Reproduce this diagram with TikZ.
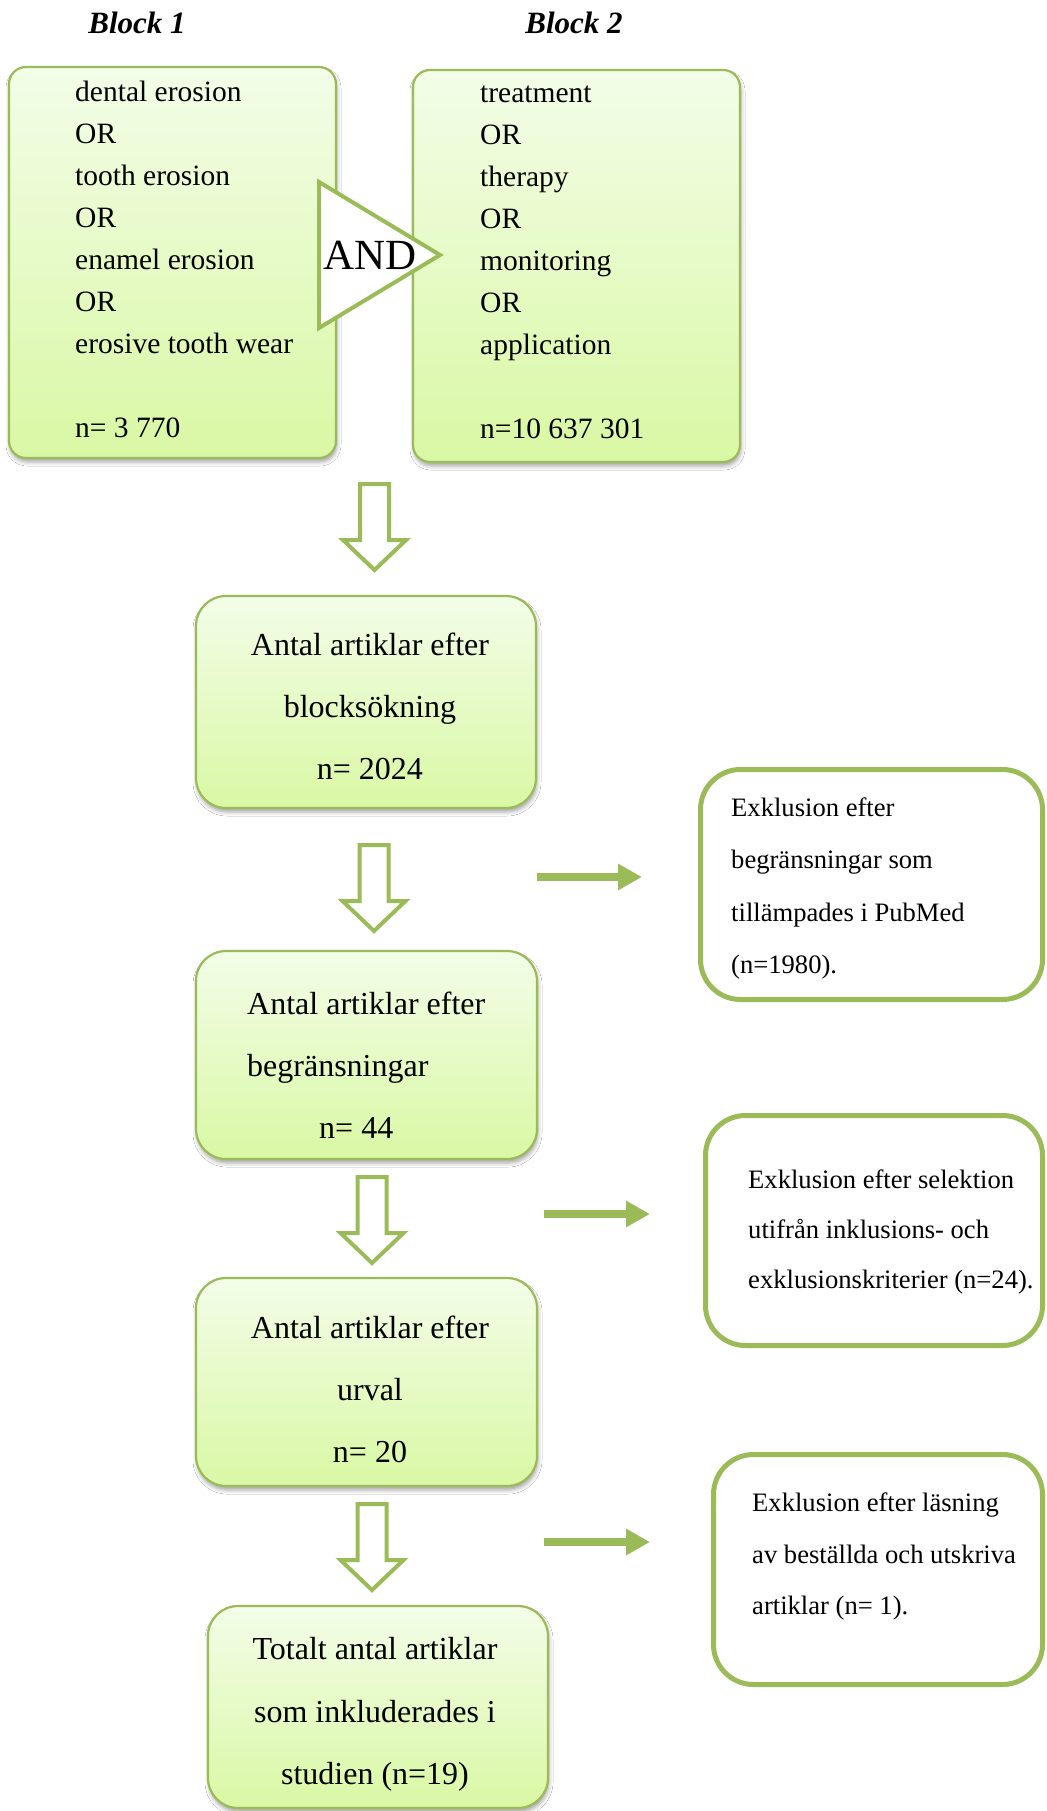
\documentclass[tikz,border=0pt]{standalone}
\usepackage{fontspec}
\setmainfont{Liberation Serif}
\usetikzlibrary{arrows.meta,shadows.blur}
\definecolor{ogreen}{HTML}{9BBB59}
\definecolor{gtop}{HTML}{F3FDE8}
\definecolor{gbot}{HTML}{D9F8A4}
\tikzset{
  softshadow/.style={blur shadow={shadow xshift=1pt,shadow yshift=-4pt,shadow blur radius=4pt,shadow opacity=35}},
  blockbox/.style={rectangle, draw=ogreen, line width=2.2pt, rounded corners=17pt,
     top color=gtop, bottom color=gbot, inner sep=0pt, softshadow},
  flowbox/.style={rectangle, draw=ogreen, line width=2.2pt, rounded corners=30pt,
     top color=gtop, bottom color=gbot, inner sep=0pt, softshadow},
  exclbox/.style={rectangle, draw=ogreen, line width=5pt, rounded corners=40pt,
     fill=white, inner sep=0pt},
  blocktxt/.style={inner sep=0pt, align=left, anchor=west, font=\fontsize{29.5}{42}\selectfont},
  flowtxt/.style={inner sep=0pt, align=center, font=\fontsize{32}{62}\selectfont},
  excltxt/.style={inner sep=0pt, align=left, anchor=west, font=\fontsize{26.6}{51.5}\selectfont},
  titletxt/.style={inner sep=0pt, font=\fontsize{31}{36}\selectfont\bfseries\itshape},
  sidearrow/.style={draw=ogreen, line width=8pt, -{Triangle[length=24pt,width=25pt]}},
  hollowdown/.pic={
    \draw[ogreen, line width=4pt, fill=white, line join=miter]
      (-14.5,0) -- (14.5,0) -- (14.5,56) -- (31.5,56) -- (0,86) -- (-31.5,56) -- (-14.5,56) -- cycle;
  }
}
\begin{document}
\begin{tikzpicture}[x=1pt,y=-1pt]
\fill[white] (0,0) rectangle (1046,1811);
\useasboundingbox (0,0) rectangle (1046,1811);

% titles
\node[titletxt] (t1) at (137,23) {Block 1};
\node[titletxt] (t2) at (574,23) {Block 2};

% search blocks
\node[blockbox, minimum width=327pt, minimum height=391pt] (b1) at (172.5,262.5) {};
\node[blockbox, minimum width=327pt, minimum height=392pt] (b2) at (576.5,266) {};
\node[blocktxt] (b1t) at (75,259) {dental erosion\\OR\\tooth erosion\\OR\\enamel erosion\\OR\\erosive tooth wear\\[42pt]n= 3 770};
\node[blocktxt] (b2t) at (480,262) {treatment\\OR\\therapy\\OR\\monitoring\\OR\\application\\[42pt]n=10 637 301};

% AND triangle
\draw[ogreen, line width=4pt, fill=white, line join=miter] (319,182) -- (440,255) -- (319,328) -- cycle;
\node[inner sep=0pt, font=\fontsize{43}{48}\selectfont] (and) at (370,255) {AND};

% flow boxes
\node[flowbox, minimum width=340pt, minimum height=212pt] (f1) at (366,702) {};
\node[flowtxt] (f1t) at (370,706.5) {Antal artiklar efter\\blocksökning\\n= 2024};

\node[flowbox, minimum width=341pt, minimum height=208pt] (f2) at (366.5,1055) {};
\node[flowtxt, align=left, anchor=west] (f2t) at (247,1065) {Antal artiklar efter\\begränsningar\\\hspace*{72pt}n= 44};

\node[flowbox, minimum width=341pt, minimum height=208pt] (f3) at (366.5,1382) {};
\node[flowtxt] (f3t) at (370,1389) {Antal artiklar efter\\urval\\n= 20};

\node[flowbox, minimum width=340pt, minimum height=202pt] (f4) at (378,1707) {};
\node[flowtxt, font=\fontsize{32}{62.5}\selectfont] (f4t) at (375,1714.5) {Totalt antal artiklar\\som inkluderades i\\studien (n=19)};

% hollow down arrows
\pic at (374.5,484) {hollowdown};
\pic at (374,845) {hollowdown};
\pic at (372,1177) {hollowdown};
\pic at (372,1504) {hollowdown};

% exclusion boxes
\node[exclbox, minimum width=342pt, minimum height=230pt] (e1) at (871.5,884.5) {};
\node[excltxt, font=\fontsize{26.6}{52.3}\selectfont] (e1t) at (731,888.5) {Exklusion efter\\begränsningar som\\tillämpades i PubMed\\(n=1980).};

\node[exclbox, minimum width=337pt, minimum height=230pt] (e2) at (874,1230.5) {};
\node[excltxt, font=\fontsize{26.6}{50}\selectfont] (e2t) at (748,1232) {Exklusion efter selektion\\utifrån inklusions- och\\exklusionskriterier (n=24).};

\node[exclbox, minimum width=329pt, minimum height=230pt] (e3) at (878,1569.5) {};
\node[excltxt] (e3t) at (752,1556.5) {Exklusion efter läsning\\av beställda och utskriva\\artiklar (n= 1).};

% side arrows
\coordinate (h1a) at (537,877);
\coordinate (h1b) at (642,877);
\coordinate (h2a) at (544,1214);
\coordinate (h2b) at (650,1214);
\coordinate (h3a) at (544,1542);
\coordinate (h3b) at (650,1542);
\draw[sidearrow] (h1a) -- (h1b);
\draw[sidearrow] (h2a) -- (h2b);
\draw[sidearrow] (h3a) -- (h3b);
\end{tikzpicture}
\end{document}
